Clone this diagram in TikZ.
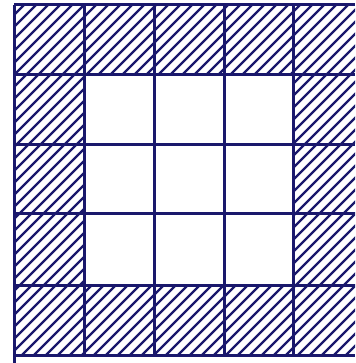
\documentclass[tikz,border=0pt]{standalone}
\definecolor{ink}{RGB}{26,24,108}

\begin{document}
\begin{tikzpicture}[
  x=1pt, y=-1pt,
  gridline/.style={draw=ink, line width=3pt},
  hatch/.style={draw=ink, line width=2.4pt, line cap=round}
]
\useasboundingbox (0,0) rectangle (355,363);

% hatched ring of border cells
\begin{scope}[even odd rule]
  \clip (14,5) rectangle (355,355) (84,75) rectangle (293,285);
  \foreach \d in {-360,-348,...,360}
    \draw[hatch] (\d,365) -- ++(370,-370);
\end{scope}

% grid
\foreach \x in {84,154,224,293}
  \draw[gridline] (\x,5) -- (\x,355);
\draw[gridline] (14,5) -- (14,363);
\foreach \y in {5,75,145,213,285,355}
  \draw[gridline] (14,\y) -- (355,\y);

\end{tikzpicture}
\end{document}
